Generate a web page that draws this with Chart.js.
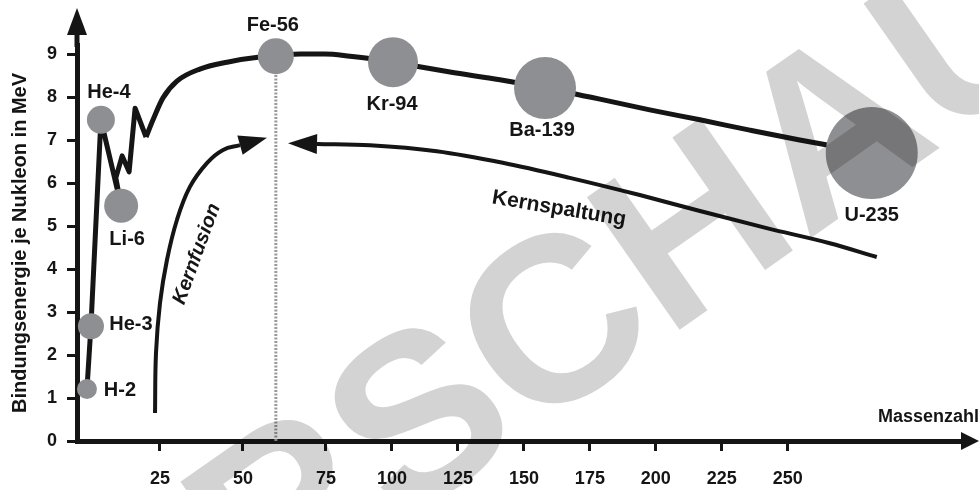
<!DOCTYPE html>
<html>
<head>
<meta charset="utf-8">
<script src="https://cdn.jsdelivr.net/npm/chart.js@4.4.1/dist/chart.umd.min.js"></script>
<style>
    html, body { margin: 0; padding: 0; background: #fff; }
</style>
</head>
<body>
<canvas id="bindingChart" width="979" height="490"></canvas>
<script>
// Nuclides drawn as circles (mass number, MeV per nucleon)
const nuclideNames = ["H-2", "He-3", "He-4", "Li-6", "Fe-56", "Kr-94", "Ba-139", "U-235"];
const nuclideMass = [3.0, 4.2, 7.2, 13.3, 59.9, 100.4, 158.0, 281.8];
const nuclideEnergy = [1.21, 2.67, 7.47, 5.47, 8.95, 8.81, 8.21, 6.70];

// light nuclei: zigzag part of the curve
const lightMass = [3.0, 4.2, 7.2, 13.3, 11.7, 13.6, 15.7, 17.5, 20.8];
const lightEnergy = [1.21, 2.67, 7.47, 5.47, 6.12, 6.63, 6.26, 7.74, 7.07];

// smooth part of the curve
const curveMass = [20.8, 22.9, 25.9, 30.1, 37.0, 45.2, 55.1, 59.9, 67.2, 74.7, 84.1, 93.6, 100.4,
    122.0, 140.9, 158.0, 178.8, 197.7, 216.7, 235.6, 254.5, 273.5, 281.8];
const curveEnergy = [7.07, 7.47, 7.98, 8.37, 8.65, 8.81, 8.93, 8.95, 9.00, 9.00, 8.95, 8.88, 8.81,
    8.58, 8.40, 8.21, 7.95, 7.70, 7.47, 7.23, 7.00, 6.79, 6.70];

// arrows
const fusionMass = [23.5, 23.8, 25.0, 27.1, 30.1, 34.0, 39.2, 44.0, 49.1];
const fusionEnergy = [0.65, 2.05, 3.21, 4.21, 5.14, 5.91, 6.47, 6.77, 6.88];
const fissionMass = [72.3, 91.7, 117.0, 142.0, 167.4, 193.9, 216.7, 242.0, 265.9, 283.7];
const fissionEnergy = [6.91, 6.88, 6.74, 6.47, 6.12, 5.72, 5.35, 4.95, 4.60, 4.28];

const xTicks = [25, 50, 75, 100, 125, 150, 175, 200, 225, 250];
const yTicks = [0, 1, 2, 3, 4, 5, 6, 7, 8, 9];

const FONT = '"Liberation Sans", Arial, sans-serif';
const INK = "#151515";

const toPoints = (xs, ys) => xs.map((x, i) => ({ x: x, y: ys[i] }));

// x axis is stretched below 75, like in the original drawing
const BREAK = 75, RATIO = 0.795;
const warp = v => v <= BREAK ? v : BREAK + (v - BREAK) * RATIO;
const unwarp = w => w <= BREAK ? w : BREAK + (w - BREAK) / RATIO;

class StretchScale extends Chart.LinearScale {
    getPixelForValue(value) {
        return this.getPixelForDecimal(warp(value) / warp(this.max));
    }
    getValueForPixel(pixel) {
        return unwarp(this.getDecimalForPixel(pixel) * warp(this.max));
    }
}
StretchScale.id = "stretch";
StretchScale.defaults = Chart.LinearScale.defaults;
Chart.register(StretchScale);

function arrowHead(ctx, from, to, len, half) {
    let dx = to.x - from.x, dy = to.y - from.y;
    let d = Math.hypot(dx, dy);
    dx /= d; dy /= d;
    let tipX = to.x + dx * len, tipY = to.y + dy * len;
    ctx.beginPath();
    ctx.moveTo(tipX, tipY);
    ctx.lineTo(to.x - dy * half, to.y + dx * half);
    ctx.lineTo(to.x + dy * half, to.y - dx * half);
    ctx.closePath();
    ctx.fill();
}

const decorations = {
    id: "decorations",
    afterDatasetsDraw(chart) {
        const ctx = chart.ctx;
        const area = chart.chartArea;
        const xs = chart.scales.x, ys = chart.scales.y;
        ctx.save();
        ctx.fillStyle = INK;
        ctx.strokeStyle = INK;

        // axis arrows
        ctx.lineWidth = 5;
        ctx.beginPath();
        ctx.moveTo(area.left, area.top + 2);
        ctx.lineTo(area.left, 30);
        ctx.stroke();
        ctx.beginPath();
        ctx.moveTo(area.left, 8);
        ctx.lineTo(area.left - 10, 35);
        ctx.lineTo(area.left + 10, 35);
        ctx.closePath();
        ctx.fill();
        ctx.beginPath();
        ctx.moveTo(area.right + 17, area.bottom);
        ctx.lineTo(area.right - 1, area.bottom - 9);
        ctx.lineTo(area.right - 1, area.bottom + 9);
        ctx.closePath();
        ctx.fill();

        // arrow heads of fusion / fission curves
        let fus = chart.getDatasetMeta(2).data;
        arrowHead(ctx, fus[fus.length - 2], fus[fus.length - 1], 28, 10);
        let fis = chart.getDatasetMeta(3).data;
        arrowHead(ctx, fis[1], fis[0], 29, 10);

        // nuclide labels
        const offsets = [[33, 2], [40, -2], [8, -27], [6, 34], [-3, -31], [-1, 42], [-3, 42], [0, 63]];
        let pts = chart.getDatasetMeta(0).data;
        ctx.font = "bold 20px " + FONT;
        ctx.textAlign = "center";
        ctx.textBaseline = "middle";
        pts.forEach((p, i) => {
            ctx.fillText(nuclideNames[i], p.x + offsets[i][0], p.y + offsets[i][1]);
        });

        // process labels
        ctx.font = "italic bold 20px " + FONT;
        ctx.save();
        ctx.translate(xs.getPixelForValue(36.1), ys.getPixelForValue(4.35));
        ctx.rotate(-70 * Math.PI / 180);
        ctx.fillText("Kernfusion", 0, 0);
        ctx.restore();

        ctx.font = "bold 21px " + FONT;
        ctx.save();
        ctx.translate(xs.getPixelForValue(163.3), ys.getPixelForValue(5.40));
        ctx.rotate(9.5 * Math.PI / 180);
        ctx.fillText("Kernspaltung", 0, 0);
        ctx.restore();

        // x axis title
        ctx.font = "bold 18px " + FONT;
        ctx.textAlign = "left";
        ctx.fillText("Massenzahl", area.right - 84, area.bottom - 24);
        ctx.restore();
    },
    afterDraw(chart) {
        // preview watermark
        const ctx = chart.ctx;
        ctx.save();
        ctx.globalCompositeOperation = "multiply";
        ctx.fillStyle = "#d3d3d3";
        ctx.font = "bold 235px " + FONT;
        ctx.textBaseline = "middle";
        ctx.translate(-55, 765);
        ctx.rotate(-35 * Math.PI / 180);
        ctx.fillText("VORSCHAU", 0, 0);
        ctx.restore();
    }
};

const ctx = document.getElementById("bindingChart").getContext("2d");
new Chart(ctx, {
    type: "line",
    data: {
        datasets: [
            {
                label: "Nuklide",
                data: toPoints(nuclideMass, nuclideEnergy),
                showLine: false,
                pointRadius: [10, 13, 14, 17, 18, 25, 31, 46],
                pointBackgroundColor: "#8e8f92",
                pointBorderWidth: 0,
                clip: false,
                order: 0
            },
            {
                label: "leichte Kerne",
                data: toPoints(lightMass, lightEnergy),
                borderColor: INK,
                borderWidth: 5,
                borderJoinStyle: "round",
                tension: 0,
                pointRadius: 0,
                clip: false,
                order: 1
            },
            {
                label: "Kernfusion",
                data: toPoints(fusionMass, fusionEnergy),
                borderColor: INK,
                borderWidth: 4,
                tension: 0.4,
                pointRadius: 0,
                clip: false,
                order: 2
            },
            {
                label: "Kernspaltung",
                data: toPoints(fissionMass, fissionEnergy),
                borderColor: INK,
                borderWidth: 4,
                cubicInterpolationMode: "monotone",
                pointRadius: 0,
                clip: false,
                order: 3
            },
            {
                label: "Bindungsenergie",
                data: toPoints(curveMass, curveEnergy),
                borderColor: INK,
                borderWidth: 5,
                cubicInterpolationMode: "monotone",
                pointRadius: 0,
                clip: false,
                order: 4
            },
            {
                label: "Fe-56",
                data: [{ x: nuclideMass[4], y: 0 }, { x: nuclideMass[4], y: nuclideEnergy[4] }],
                borderColor: "#9a9a9a",
                borderWidth: 3,
                borderDash: [2, 1.5],
                pointRadius: 0,
                clip: false,
                order: 5
            }
        ]
    },
    options: {
        responsive: false,
        animation: false,
        events: [],
        layout: { autoPadding: false, padding: { top: 45, right: 17, bottom: 0, left: 0 } },
        plugins: { legend: { display: false }, tooltip: { enabled: false } },
        scales: {
            x: {
                type: "stretch",
                min: 0,
                max: 316,
                afterBuildTicks: s => { s.ticks = xTicks.map(v => ({ value: v })); },
                afterFit: s => { s.height = 49; s.paddingLeft = 0; s.paddingRight = 0; },
                grid: { drawOnChartArea: false, tickLength: 10, tickWidth: 3, tickColor: INK },
                border: { display: true, color: INK, width: 5 },
                ticks: {
                    color: INK, padding: 17, maxRotation: 0, autoSkip: false,
                    font: { family: FONT, size: 18, weight: "bold" }
                }
            },
            y: {
                type: "linear",
                min: 0,
                max: 9.21,
                afterBuildTicks: s => { s.ticks = yTicks.map(v => ({ value: v })); },
                afterFit: s => { s.width = 77; },
                grid: { drawOnChartArea: false, tickLength: 10, tickWidth: 3, tickColor: INK },
                border: { display: true, color: INK, width: 5 },
                title: {
                    display: true,
                    text: "Bindungsenergie je Nukleon in MeV",
                    color: INK,
                    font: { family: FONT, size: 20, weight: "bold" },
                    padding: { top: 8, bottom: 0 }
                },
                ticks: {
                    color: INK, padding: 10,
                    font: { family: FONT, size: 18, weight: "bold" }
                }
            }
        }
    },
    plugins: [decorations]
});
</script>
</body>
</html>
